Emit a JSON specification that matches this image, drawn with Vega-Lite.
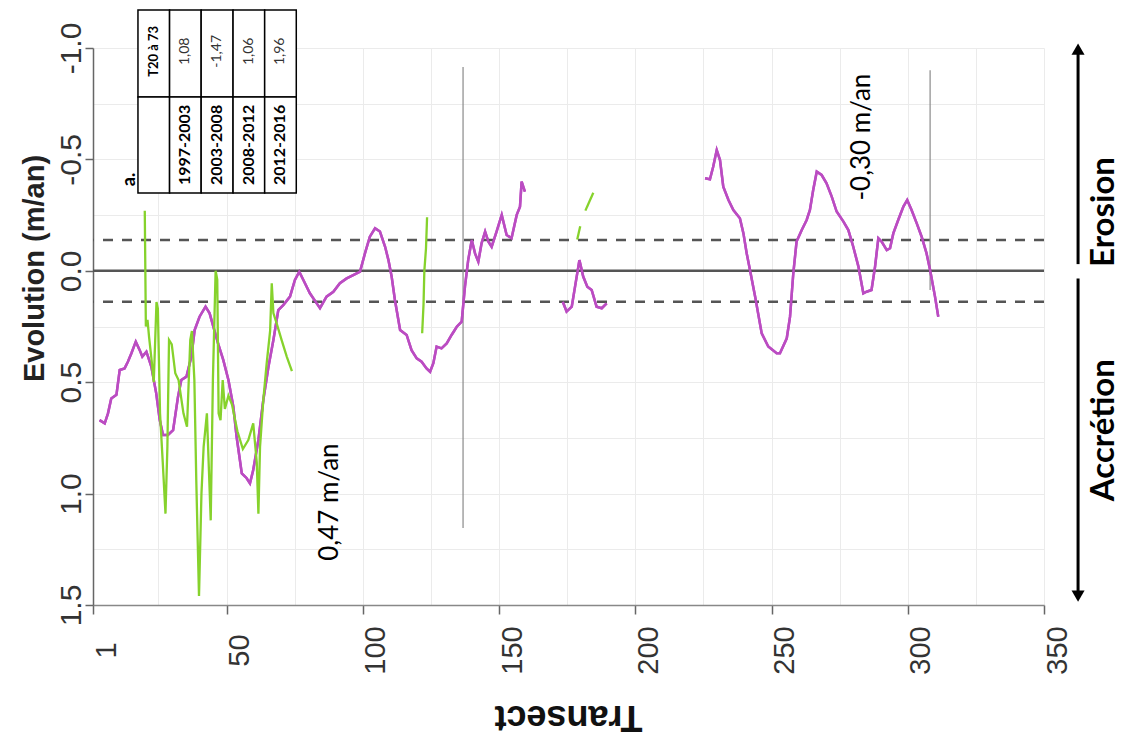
{
  "$schema": "https://vega.github.io/schema/vega-lite/v6.json",
  "width": 951,
  "height": 557,
  "autosize": {"type": "none"},
  "padding": {"left": 93, "top": 48, "right": 84, "bottom": 132},
  "background": "white",
  "config": {"view": {"stroke": null}},
  "datasets": {
    "series": [
      {"t": 3.4, "v": 0.67, "s": "p", "seg": 1},
      {"t": 5.3, "v": 0.685, "s": "p", "seg": 1},
      {"t": 6.5, "v": 0.64, "s": "p", "seg": 1},
      {"t": 7.7, "v": 0.573, "s": "p", "seg": 1},
      {"t": 9.6, "v": 0.557, "s": "p", "seg": 1},
      {"t": 10.8, "v": 0.445, "s": "p", "seg": 1},
      {"t": 12.6, "v": 0.438, "s": "p", "seg": 1},
      {"t": 13.8, "v": 0.408, "s": "p", "seg": 1},
      {"t": 15.1, "v": 0.37, "s": "p", "seg": 1},
      {"t": 16.7, "v": 0.318, "s": "p", "seg": 1},
      {"t": 18.1, "v": 0.355, "s": "p", "seg": 1},
      {"t": 19.1, "v": 0.385, "s": "p", "seg": 1},
      {"t": 20.6, "v": 0.363, "s": "p", "seg": 1},
      {"t": 22.4, "v": 0.43, "s": "p", "seg": 1},
      {"t": 24.2, "v": 0.55, "s": "p", "seg": 1},
      {"t": 25.5, "v": 0.67, "s": "p", "seg": 1},
      {"t": 26.7, "v": 0.737, "s": "p", "seg": 1},
      {"t": 28.5, "v": 0.737, "s": "p", "seg": 1},
      {"t": 30.4, "v": 0.715, "s": "p", "seg": 1},
      {"t": 32.2, "v": 0.565, "s": "p", "seg": 1},
      {"t": 33.4, "v": 0.49, "s": "p", "seg": 1},
      {"t": 35.3, "v": 0.475, "s": "p", "seg": 1},
      {"t": 37.1, "v": 0.385, "s": "p", "seg": 1},
      {"t": 38.3, "v": 0.266, "s": "p", "seg": 1},
      {"t": 40.1, "v": 0.206, "s": "p", "seg": 1},
      {"t": 42.3, "v": 0.161, "s": "p", "seg": 1},
      {"t": 43.8, "v": 0.191, "s": "p", "seg": 1},
      {"t": 45.6, "v": 0.27, "s": "p", "seg": 1},
      {"t": 47.0, "v": 0.33, "s": "p", "seg": 1},
      {"t": 48.8, "v": 0.4, "s": "p", "seg": 1},
      {"t": 50.7, "v": 0.49, "s": "p", "seg": 1},
      {"t": 52.5, "v": 0.61, "s": "p", "seg": 1},
      {"t": 53.7, "v": 0.745, "s": "p", "seg": 1},
      {"t": 55.6, "v": 0.909, "s": "p", "seg": 1},
      {"t": 57.4, "v": 0.931, "s": "p", "seg": 1},
      {"t": 58.6, "v": 0.954, "s": "p", "seg": 1},
      {"t": 59.8, "v": 0.894, "s": "p", "seg": 1},
      {"t": 61.7, "v": 0.759, "s": "p", "seg": 1},
      {"t": 63.5, "v": 0.58, "s": "p", "seg": 1},
      {"t": 65.4, "v": 0.43, "s": "p", "seg": 1},
      {"t": 67.2, "v": 0.311, "s": "p", "seg": 1},
      {"t": 69.0, "v": 0.176, "s": "p", "seg": 1},
      {"t": 70.9, "v": 0.153, "s": "p", "seg": 1},
      {"t": 73.3, "v": 0.116, "s": "p", "seg": 1},
      {"t": 75.1, "v": 0.041, "s": "p", "seg": 1},
      {"t": 76.7, "v": 0.004, "s": "p", "seg": 1},
      {"t": 78.2, "v": 0.041, "s": "p", "seg": 1},
      {"t": 80.6, "v": 0.101, "s": "p", "seg": 1},
      {"t": 83.1, "v": 0.146, "s": "p", "seg": 1},
      {"t": 84.3, "v": 0.168, "s": "p", "seg": 1},
      {"t": 86.7, "v": 0.116, "s": "p", "seg": 1},
      {"t": 89.2, "v": 0.094, "s": "p", "seg": 1},
      {"t": 91.6, "v": 0.056, "s": "p", "seg": 1},
      {"t": 94.1, "v": 0.034, "s": "p", "seg": 1},
      {"t": 96.5, "v": 0.019, "s": "p", "seg": 1},
      {"t": 99.0, "v": 0.004, "s": "p", "seg": 1},
      {"t": 100.8, "v": -0.078, "s": "p", "seg": 1},
      {"t": 102.6, "v": -0.153, "s": "p", "seg": 1},
      {"t": 104.5, "v": -0.191, "s": "p", "seg": 1},
      {"t": 106.3, "v": -0.176, "s": "p", "seg": 1},
      {"t": 108.2, "v": -0.108, "s": "p", "seg": 1},
      {"t": 109.4, "v": -0.049, "s": "p", "seg": 1},
      {"t": 110.6, "v": 0.026, "s": "p", "seg": 1},
      {"t": 111.8, "v": 0.131, "s": "p", "seg": 1},
      {"t": 113.7, "v": 0.266, "s": "p", "seg": 1},
      {"t": 116.1, "v": 0.288, "s": "p", "seg": 1},
      {"t": 117.9, "v": 0.356, "s": "p", "seg": 1},
      {"t": 119.8, "v": 0.393, "s": "p", "seg": 1},
      {"t": 121.6, "v": 0.408, "s": "p", "seg": 1},
      {"t": 123.4, "v": 0.438, "s": "p", "seg": 1},
      {"t": 124.7, "v": 0.453, "s": "p", "seg": 1},
      {"t": 125.9, "v": 0.415, "s": "p", "seg": 1},
      {"t": 127.1, "v": 0.34, "s": "p", "seg": 1},
      {"t": 128.9, "v": 0.348, "s": "p", "seg": 1},
      {"t": 130.8, "v": 0.326, "s": "p", "seg": 1},
      {"t": 132.6, "v": 0.288, "s": "p", "seg": 1},
      {"t": 134.5, "v": 0.251, "s": "p", "seg": 1},
      {"t": 136.3, "v": 0.228, "s": "p", "seg": 1},
      {"t": 137.5, "v": 0.071, "s": "p", "seg": 1},
      {"t": 138.7, "v": -0.049, "s": "p", "seg": 1},
      {"t": 140.0, "v": -0.138, "s": "p", "seg": 1},
      {"t": 141.2, "v": -0.078, "s": "p", "seg": 1},
      {"t": 142.4, "v": -0.041, "s": "p", "seg": 1},
      {"t": 143.6, "v": -0.123, "s": "p", "seg": 1},
      {"t": 144.9, "v": -0.176, "s": "p", "seg": 1},
      {"t": 146.1, "v": -0.131, "s": "p", "seg": 1},
      {"t": 147.3, "v": -0.108, "s": "p", "seg": 1},
      {"t": 149.1, "v": -0.176, "s": "p", "seg": 1},
      {"t": 151.0, "v": -0.251, "s": "p", "seg": 1},
      {"t": 152.8, "v": -0.161, "s": "p", "seg": 1},
      {"t": 154.6, "v": -0.146, "s": "p", "seg": 1},
      {"t": 156.5, "v": -0.251, "s": "p", "seg": 1},
      {"t": 157.7, "v": -0.288, "s": "p", "seg": 1},
      {"t": 158.3, "v": -0.4, "s": "p", "seg": 1},
      {"t": 159.5, "v": -0.355, "s": "p", "seg": 1},
      {"t": 173.4, "v": 0.139, "s": "p", "seg": 2},
      {"t": 174.8, "v": 0.183, "s": "p", "seg": 2},
      {"t": 176.7, "v": 0.161, "s": "p", "seg": 2},
      {"t": 177.9, "v": 0.071, "s": "p", "seg": 2},
      {"t": 179.5, "v": -0.048, "s": "p", "seg": 2},
      {"t": 180.9, "v": 0.026, "s": "p", "seg": 2},
      {"t": 182.4, "v": 0.071, "s": "p", "seg": 2},
      {"t": 184.0, "v": 0.086, "s": "p", "seg": 2},
      {"t": 185.8, "v": 0.161, "s": "p", "seg": 2},
      {"t": 187.7, "v": 0.168, "s": "p", "seg": 2},
      {"t": 189.5, "v": 0.146, "s": "p", "seg": 2},
      {"t": 225.6, "v": -0.415, "s": "p", "seg": 3},
      {"t": 227.4, "v": -0.411, "s": "p", "seg": 3},
      {"t": 228.6, "v": -0.467, "s": "p", "seg": 3},
      {"t": 229.9, "v": -0.542, "s": "p", "seg": 3},
      {"t": 231.1, "v": -0.497, "s": "p", "seg": 3},
      {"t": 232.3, "v": -0.378, "s": "p", "seg": 3},
      {"t": 234.2, "v": -0.318, "s": "p", "seg": 3},
      {"t": 236.0, "v": -0.273, "s": "p", "seg": 3},
      {"t": 238.4, "v": -0.236, "s": "p", "seg": 3},
      {"t": 239.7, "v": -0.168, "s": "p", "seg": 3},
      {"t": 240.9, "v": -0.078, "s": "p", "seg": 3},
      {"t": 242.1, "v": -0.004, "s": "p", "seg": 3},
      {"t": 244.0, "v": 0.116, "s": "p", "seg": 3},
      {"t": 246.4, "v": 0.281, "s": "p", "seg": 3},
      {"t": 248.8, "v": 0.34, "s": "p", "seg": 3},
      {"t": 251.9, "v": 0.37, "s": "p", "seg": 3},
      {"t": 253.1, "v": 0.37, "s": "p", "seg": 3},
      {"t": 255.6, "v": 0.303, "s": "p", "seg": 3},
      {"t": 256.8, "v": 0.206, "s": "p", "seg": 3},
      {"t": 258.0, "v": 0.011, "s": "p", "seg": 3},
      {"t": 259.2, "v": -0.131, "s": "p", "seg": 3},
      {"t": 261.1, "v": -0.183, "s": "p", "seg": 3},
      {"t": 262.9, "v": -0.228, "s": "p", "seg": 3},
      {"t": 264.1, "v": -0.273, "s": "p", "seg": 3},
      {"t": 265.3, "v": -0.363, "s": "p", "seg": 3},
      {"t": 266.6, "v": -0.445, "s": "p", "seg": 3},
      {"t": 268.4, "v": -0.43, "s": "p", "seg": 3},
      {"t": 270.2, "v": -0.393, "s": "p", "seg": 3},
      {"t": 272.1, "v": -0.333, "s": "p", "seg": 3},
      {"t": 273.9, "v": -0.266, "s": "p", "seg": 3},
      {"t": 276.4, "v": -0.221, "s": "p", "seg": 3},
      {"t": 278.2, "v": -0.183, "s": "p", "seg": 3},
      {"t": 280.0, "v": -0.108, "s": "p", "seg": 3},
      {"t": 281.9, "v": -0.019, "s": "p", "seg": 3},
      {"t": 283.7, "v": 0.101, "s": "p", "seg": 3},
      {"t": 284.9, "v": 0.094, "s": "p", "seg": 3},
      {"t": 286.7, "v": 0.086, "s": "p", "seg": 3},
      {"t": 288.0, "v": -0.019, "s": "p", "seg": 3},
      {"t": 289.2, "v": -0.146, "s": "p", "seg": 3},
      {"t": 290.4, "v": -0.131, "s": "p", "seg": 3},
      {"t": 292.3, "v": -0.093, "s": "p", "seg": 3},
      {"t": 293.5, "v": -0.101, "s": "p", "seg": 3},
      {"t": 294.7, "v": -0.168, "s": "p", "seg": 3},
      {"t": 296.5, "v": -0.228, "s": "p", "seg": 3},
      {"t": 298.4, "v": -0.288, "s": "p", "seg": 3},
      {"t": 299.8, "v": -0.318, "s": "p", "seg": 3},
      {"t": 301.4, "v": -0.273, "s": "p", "seg": 3},
      {"t": 303.3, "v": -0.213, "s": "p", "seg": 3},
      {"t": 305.1, "v": -0.153, "s": "p", "seg": 3},
      {"t": 306.9, "v": -0.078, "s": "p", "seg": 3},
      {"t": 308.2, "v": -0.004, "s": "p", "seg": 3},
      {"t": 310.0, "v": 0.116, "s": "p", "seg": 3},
      {"t": 311.2, "v": 0.206, "s": "p", "seg": 3},
      {"t": 20.0, "v": -0.27, "s": "g", "seg": 4},
      {"t": 20.4, "v": 0.25, "s": "g", "seg": 4},
      {"t": 21.0, "v": 0.22, "s": "g", "seg": 4},
      {"t": 21.6, "v": 0.3, "s": "g", "seg": 4},
      {"t": 22.5, "v": 0.4, "s": "g", "seg": 4},
      {"t": 23.3, "v": 0.5, "s": "g", "seg": 4},
      {"t": 24.3, "v": 0.14, "s": "g", "seg": 4},
      {"t": 24.8, "v": 0.17, "s": "g", "seg": 4},
      {"t": 25.6, "v": 0.64, "s": "g", "seg": 4},
      {"t": 26.6, "v": 0.86, "s": "g", "seg": 4},
      {"t": 27.6, "v": 1.09, "s": "g", "seg": 4},
      {"t": 28.3, "v": 0.79, "s": "g", "seg": 4},
      {"t": 28.9, "v": 0.31, "s": "g", "seg": 4},
      {"t": 29.9, "v": 0.33, "s": "g", "seg": 4},
      {"t": 31.2, "v": 0.46, "s": "g", "seg": 4},
      {"t": 32.4, "v": 0.49, "s": "g", "seg": 4},
      {"t": 34.2, "v": 0.64, "s": "g", "seg": 4},
      {"t": 35.5, "v": 0.7, "s": "g", "seg": 4},
      {"t": 36.7, "v": 0.31, "s": "g", "seg": 4},
      {"t": 37.3, "v": 0.27, "s": "g", "seg": 4},
      {"t": 38.2, "v": 0.49, "s": "g", "seg": 4},
      {"t": 38.9, "v": 0.94, "s": "g", "seg": 4},
      {"t": 39.9, "v": 1.46, "s": "g", "seg": 4},
      {"t": 40.8, "v": 1.0, "s": "g", "seg": 4},
      {"t": 41.6, "v": 0.79, "s": "g", "seg": 4},
      {"t": 42.8, "v": 0.64, "s": "g", "seg": 4},
      {"t": 44.2, "v": 1.12, "s": "g", "seg": 4},
      {"t": 45.0, "v": 0.49, "s": "g", "seg": 4},
      {"t": 46.0, "v": 0.0, "s": "g", "seg": 4},
      {"t": 46.6, "v": 0.04, "s": "g", "seg": 4},
      {"t": 47.1, "v": 0.64, "s": "g", "seg": 4},
      {"t": 47.8, "v": 0.67, "s": "g", "seg": 4},
      {"t": 48.6, "v": 0.49, "s": "g", "seg": 4},
      {"t": 49.4, "v": 0.62, "s": "g", "seg": 4},
      {"t": 50.7, "v": 0.56, "s": "g", "seg": 4},
      {"t": 52.0, "v": 0.6, "s": "g", "seg": 4},
      {"t": 54.0, "v": 0.72, "s": "g", "seg": 4},
      {"t": 56.0, "v": 0.8, "s": "g", "seg": 4},
      {"t": 58.0, "v": 0.76, "s": "g", "seg": 4},
      {"t": 59.8, "v": 0.685, "s": "g", "seg": 4},
      {"t": 61.1, "v": 0.86, "s": "g", "seg": 4},
      {"t": 61.7, "v": 1.09, "s": "g", "seg": 4},
      {"t": 62.3, "v": 0.79, "s": "g", "seg": 4},
      {"t": 63.5, "v": 0.58, "s": "g", "seg": 4},
      {"t": 64.7, "v": 0.42, "s": "g", "seg": 4},
      {"t": 66.0, "v": 0.27, "s": "g", "seg": 4},
      {"t": 66.6, "v": 0.056, "s": "g", "seg": 4},
      {"t": 67.2, "v": 0.19, "s": "g", "seg": 4},
      {"t": 68.4, "v": 0.236, "s": "g", "seg": 4},
      {"t": 70.2, "v": 0.31, "s": "g", "seg": 4},
      {"t": 72.1, "v": 0.385, "s": "g", "seg": 4},
      {"t": 74.0, "v": 0.45, "s": "g", "seg": 4},
      {"t": 121.8, "v": 0.28, "s": "g", "seg": 5},
      {"t": 122.3, "v": 0.15, "s": "g", "seg": 5},
      {"t": 122.6, "v": 0.0, "s": "g", "seg": 5},
      {"t": 123.2, "v": -0.1, "s": "g", "seg": 5},
      {"t": 123.6, "v": -0.24, "s": "g", "seg": 5},
      {"t": 178.7, "v": -0.14, "s": "g", "seg": 6},
      {"t": 179.8, "v": -0.2, "s": "g", "seg": 6},
      {"t": 181.7, "v": -0.27, "s": "g", "seg": 7},
      {"t": 184.6, "v": -0.35, "s": "g", "seg": 7}
    ],
    "hlines": [
      {"v": 0, "kind": "solid"},
      {"v": -0.138, "kind": "dash"},
      {"v": 0.139, "kind": "dash"}
    ],
    "vlines": [
      {"t": 136.8, "v": -0.915, "v2": 1.154},
      {"t": 308.2, "v": -0.9, "v2": 0.086}
    ],
    "cells": [
      {"t": 17.5, "t2": 29.1, "v": -1.171, "v2": -0.78},
      {"t": 17.5, "t2": 29.1, "v": -0.78, "v2": -0.349},
      {"t": 29.1, "t2": 40.7, "v": -1.171, "v2": -0.78},
      {"t": 29.1, "t2": 40.7, "v": -0.78, "v2": -0.349},
      {"t": 40.7, "t2": 52.4, "v": -1.171, "v2": -0.78},
      {"t": 40.7, "t2": 52.4, "v": -0.78, "v2": -0.349},
      {"t": 52.4, "t2": 64.0, "v": -1.171, "v2": -0.78},
      {"t": 52.4, "t2": 64.0, "v": -0.78, "v2": -0.349},
      {"t": 64.0, "t2": 75.6, "v": -1.171, "v2": -0.78},
      {"t": 64.0, "t2": 75.6, "v": -0.78, "v2": -0.349}
    ],
    "periods": [
      {"t": 34.9, "v": -0.565, "label": "1997-2003"},
      {"t": 46.55, "v": -0.565, "label": "2003-2008"},
      {"t": 58.2, "v": -0.565, "label": "2008-2012"},
      {"t": 69.8, "v": -0.565, "label": "2012-2016"}
    ],
    "header": [
      {"t": 23.3, "v": -0.985, "label": "T20 à 73"}
    ],
    "values": [
      {"t": 34.9, "v": -0.985, "label": "1,08"},
      {"t": 46.55, "v": -0.985, "label": "-1,47"},
      {"t": 58.2, "v": -0.985, "label": "1,06"},
      {"t": 69.8, "v": -0.985, "label": "1,96"}
    ],
    "panel": [
      {"t": 14.4, "v": -0.41, "label": "a."}
    ],
    "notes": [
      {"t": 88.0, "v": 1.038, "label": "0,47 m/an"},
      {"t": 283.2, "v": -0.6, "label": "-0,30 m/an"}
    ],
    "sides": [
      {"t": 372.0, "v": -0.264, "label": "Erosion"},
      {"t": 372.0, "v": 0.715, "label": "Accrétion"}
    ],
    "arrows": [
      {"t": 362.5, "v": -1.0, "v2": -0.03},
      {"t": 362.5, "v": 0.035, "v2": 1.46}
    ],
    "heads": [
      {"t": 362.5, "v": -0.995, "dir": "up"},
      {"t": 362.5, "v": 1.46, "dir": "down"}
    ]
  },
  "layer": [
    {
      "data": {"name": "series"},
      "transform": [{"filter": "datum.s == 'p'"}],
      "mark": {"type": "line", "strokeWidth": 2.5, "color": "#bb4cc2"},
      "encoding": {
        "x": {
          "field": "t", "type": "quantitative", "title": "Transect",
          "scale": {"domain": [1, 350], "nice": false, "zero": false},
          "axis": {
            "values": [1, 25, 50, 75, 100, 125, 150, 175, 200, 225, 250, 275, 300, 325, 350],
            "labelExpr": "datum.value == 1 || datum.value % 50 == 0 ? '' + datum.value : ''",
            "labelAngle": -90, "labelAlign": "center", "labelBaseline": "middle",
            "labelFont": "Liberation Sans", "labelFontSize": 29, "labelColor": "#333",
            "labelPadding": 36, "labelOffset": 13, "labelOverlap": false, "labelFlush": false,
            "tickSize": 9, "tickWidth": 1.5,
            "tickColor": {"condition": {"test": "datum.value == 1 || datum.value % 50 == 0", "value": "#666"}, "value": "rgba(0,0,0,0)"},
            "domainColor": "#888", "domainWidth": 1.5,
            "grid": true, "gridColor": "#ebebeb", "gridWidth": 1,
            "titleAngle": 180, "titleFont": "Liberation Sans", "titleFontSize": 36, "titleFontWeight": "bold",
            "titleColor": "#111", "titleBaseline": "alphabetic", "titleAlign": "center", "titleX": 475, "titleY": 100
          }
        },
        "y": {
          "field": "v", "type": "quantitative", "title": "Evolution (m/an)",
          "scale": {"domain": [-1, 1.5], "reverse": true, "nice": false, "zero": false},
          "axis": {
            "values": [-1, -0.75, -0.5, -0.25, 0, 0.25, 0.5, 0.75, 1, 1.25, 1.5],
            "labelExpr": "abs(datum.value * 2 - round(datum.value * 2)) < 0.001 ? replace(format(datum.value, '.1f'), '\u2212', '-') : ''",
            "labelAngle": -90, "labelAlign": "center", "labelBaseline": "alphabetic",
            "labelFont": "Liberation Sans", "labelFontSize": 30, "labelColor": "#333",
            "labelPadding": 5, "labelOverlap": false, "labelFlush": false,
            "tickSize": 8, "tickWidth": 1.5,
            "tickColor": {"condition": {"test": "abs(datum.value * 2 - round(datum.value * 2)) < 0.001", "value": "#666"}, "value": "rgba(0,0,0,0)"},
            "domainColor": "#666", "domainWidth": 1.5,
            "grid": true, "gridColor": "#ebebeb", "gridWidth": 1,
            "titleAngle": 270, "titleFont": "Liberation Sans", "titleFontSize": 29, "titleFontWeight": "bold",
            "titleColor": "#222", "titleBaseline": "alphabetic", "titleAlign": "center", "titleX": -50, "titleY": 220
          }
        },
        "detail": {"field": "seg", "type": "nominal"}
      }
    },
    {
      "data": {"name": "hlines"},
      "mark": {"type": "rule", "color": "#555", "strokeWidth": 2.5},
      "encoding": {
        "y": {"field": "v", "type": "quantitative", "title": "Evolution (m/an)"},
        "strokeDash": {"field": "kind", "type": "nominal", "scale": {"domain": ["solid", "dash"], "range": [[1, 0], [10, 9]]}, "legend": null}
      }
    },
    {
      "data": {"name": "vlines"},
      "mark": {"type": "rule", "color": "#8a8a8a", "strokeWidth": 1.2},
      "encoding": {
        "x": {"field": "t", "type": "quantitative", "title": "Transect"},
        "y": {"field": "v", "type": "quantitative", "title": "Evolution (m/an)"},
        "y2": {"field": "v2"}
      }
    },
    {
      "data": {"name": "series"},
      "transform": [{"filter": "datum.s == 'p'"}],
      "mark": {"type": "line", "strokeWidth": 2.5, "color": "#bb4cc2"},
      "encoding": {
        "x": {"field": "t", "type": "quantitative", "title": "Transect"},
        "y": {"field": "v", "type": "quantitative", "title": "Evolution (m/an)"},
        "detail": {"field": "seg", "type": "nominal"}
      }
    },
    {
      "data": {"name": "series"},
      "transform": [{"filter": "datum.s == 'g'"}],
      "mark": {"type": "line", "strokeWidth": 2.3, "color": "#86d22c"},
      "encoding": {
        "x": {"field": "t", "type": "quantitative", "title": "Transect"},
        "y": {"field": "v", "type": "quantitative", "title": "Evolution (m/an)"},
        "detail": {"field": "seg", "type": "nominal"}
      }
    },
    {
      "data": {"name": "cells"},
      "mark": {"type": "rect", "fill": "white", "stroke": "black", "strokeWidth": 1.5},
      "encoding": {
        "x": {"field": "t", "type": "quantitative", "title": "Transect"},
        "x2": {"field": "t2"},
        "y": {"field": "v", "type": "quantitative", "title": "Evolution (m/an)"},
        "y2": {"field": "v2"}
      }
    },
    {
      "data": {"name": "periods"},
      "mark": {"type": "text", "angle": 270, "align": "center", "baseline": "middle", "font": "Lato", "fontWeight": "bold", "fontSize": 16, "color": "black"},
      "encoding": {
        "x": {"field": "t", "type": "quantitative", "title": "Transect"},
        "y": {"field": "v", "type": "quantitative", "title": "Evolution (m/an)"},
        "text": {"field": "label"}
      }
    },
    {
      "data": {"name": "header"},
      "mark": {"type": "text", "angle": 270, "align": "center", "baseline": "middle", "font": "Lato", "fontWeight": "bold", "fontSize": 13, "color": "black"},
      "encoding": {
        "x": {"field": "t", "type": "quantitative", "title": "Transect"},
        "y": {"field": "v", "type": "quantitative", "title": "Evolution (m/an)"},
        "text": {"field": "label"}
      }
    },
    {
      "data": {"name": "values"},
      "mark": {"type": "text", "angle": 270, "align": "center", "baseline": "middle", "font": "Lato", "fontSize": 14, "color": "#333"},
      "encoding": {
        "x": {"field": "t", "type": "quantitative", "title": "Transect"},
        "y": {"field": "v", "type": "quantitative", "title": "Evolution (m/an)"},
        "text": {"field": "label"}
      }
    },
    {
      "data": {"name": "panel"},
      "mark": {"type": "text", "angle": 270, "align": "center", "baseline": "middle", "font": "Lato", "fontWeight": "bold", "fontSize": 18, "color": "black"},
      "encoding": {
        "x": {"field": "t", "type": "quantitative", "title": "Transect"},
        "y": {"field": "v", "type": "quantitative", "title": "Evolution (m/an)"},
        "text": {"field": "label"}
      }
    },
    {
      "data": {"name": "notes"},
      "mark": {"type": "text", "angle": 270, "align": "center", "baseline": "middle", "font": "Lato", "fontSize": 26, "color": "black"},
      "encoding": {
        "x": {"field": "t", "type": "quantitative", "title": "Transect"},
        "y": {"field": "v", "type": "quantitative", "title": "Evolution (m/an)"},
        "text": {"field": "label"}
      }
    },
    {
      "data": {"name": "sides"},
      "mark": {"type": "text", "angle": 270, "align": "center", "baseline": "middle", "font": "Lato", "fontWeight": "bold", "fontSize": 33, "color": "black"},
      "encoding": {
        "x": {"field": "t", "type": "quantitative", "title": "Transect"},
        "y": {"field": "v", "type": "quantitative", "title": "Evolution (m/an)"},
        "text": {"field": "label"}
      }
    },
    {
      "data": {"name": "arrows"},
      "mark": {"type": "rule", "color": "black", "strokeWidth": 3},
      "encoding": {
        "x": {"field": "t", "type": "quantitative", "title": "Transect"},
        "y": {"field": "v", "type": "quantitative", "title": "Evolution (m/an)"},
        "y2": {"field": "v2"}
      }
    },
    {
      "data": {"name": "heads"},
      "mark": {"type": "point", "filled": true, "color": "black", "opacity": 1, "size": 170},
      "encoding": {
        "x": {"field": "t", "type": "quantitative", "title": "Transect"},
        "y": {"field": "v", "type": "quantitative", "title": "Evolution (m/an)"},
        "shape": {"field": "dir", "type": "nominal", "scale": {"domain": ["up", "down"], "range": ["triangle-up", "triangle-down"]}, "legend": null}
      }
    }
  ]
}
